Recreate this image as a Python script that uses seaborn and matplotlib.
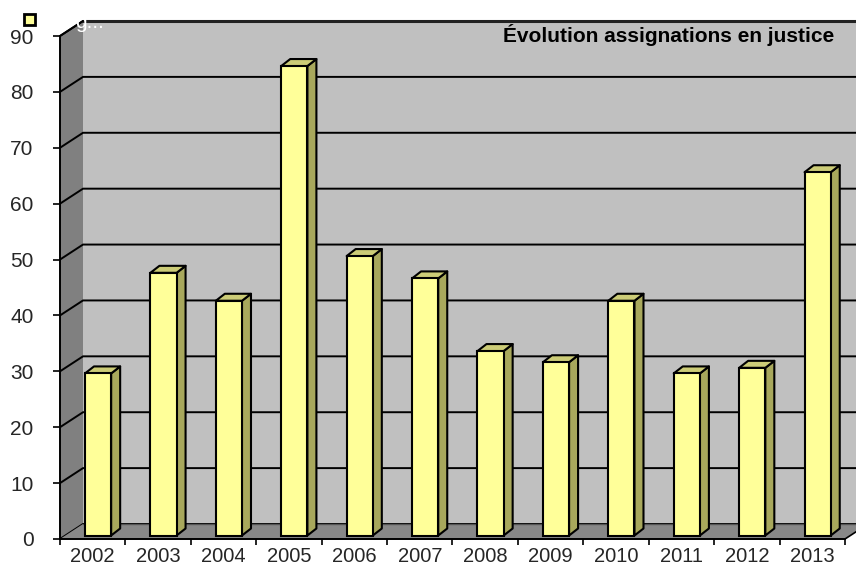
import matplotlib
matplotlib.use("Agg")
import matplotlib.pyplot as plt
from matplotlib.patches import Polygon, Rectangle
import seaborn as sns
import pandas as pd

years = ["2002", "2003", "2004", "2005", "2006", "2007", "2008", "2009", "2010", "2011", "2012", "2013"]
values = [29, 47, 42, 84, 50, 46, 33, 31, 42, 29, 30, 65]
yticks = [0, 10, 20, 30, 40, 50, 60, 70, 80, 90]
title = "Évolution assignations en justice"
legend_text = "g..."

sns.set_theme(style="white")
plt.rcParams['font.family'] = ['Liberation Sans', 'DejaVu Sans']

W, H = 856, 571
fig = plt.figure(figsize=(W / 100, H / 100), dpi=100)
fig.patch.set_facecolor("white")

# axes: x -0.5..11.5 -> px 60..845 ; y 0..90 -> px 539..36
px_l, px_r, px_b, px_t = 60, 845, 539, 36
ax = fig.add_axes([px_l / W, 1 - px_b / H, (px_r - px_l) / W, (px_b - px_t) / H])
n = len(years)
ax.set_xlim(-0.5, n - 0.5)
ax.set_ylim(0, 90)
ax.patch.set_alpha(0)
for s in ax.spines.values():
    s.set_visible(False)

ppx = (px_r - px_l) / n          # px per x unit
ppy = (px_b - px_t) / 90.0       # px per y unit
wdx, wdy = 23 / ppx, 15 / ppy    # wall depth
bdx, bdy = 9 / ppx, 7 / ppy      # bar depth
x0, x1 = -0.5, n - 0.5
ytop = 90

wall_c = "#C0C0C0"
side_c = "#808080"
floor_c = "#888888"

# back wall
ax.add_patch(Polygon([(x0 + wdx, wdy), (x1 + wdx, wdy), (x1 + wdx, ytop + wdy), (x0 + wdx, ytop + wdy)],
                     closed=True, facecolor=wall_c, edgecolor="none", zorder=0, clip_on=False))
# left wall
ax.add_patch(Polygon([(x0, 0), (x0 + wdx, wdy), (x0 + wdx, ytop + wdy), (x0, ytop)],
                     closed=True, facecolor=side_c, edgecolor="none", zorder=0, clip_on=False))
# gridlines on back and left walls
for t in yticks:
    ax.plot([x0, x0 + wdx, x1 + wdx], [t, t + wdy, t + wdy], color="black", lw=1.4,
            zorder=1, clip_on=False, solid_capstyle="butt")
ax.plot([x0 + wdx, x1 + wdx], [ytop + wdy, ytop + wdy], color="#222222", lw=2.2, zorder=1, clip_on=False)
# floor
ax.add_patch(Polygon([(x0, 0), (x1, 0), (x1 + wdx, wdy), (x0 + wdx, wdy)],
                     closed=True, facecolor=floor_c, edgecolor="none", zorder=1.5, clip_on=False))
ax.plot([x0 + wdx, x1 + wdx], [wdy, wdy], color="#555555", lw=1.0, zorder=1.6, clip_on=False)
ax.plot([x1, x1 + wdx], [0, wdy], color="black", lw=1.2, zorder=1.6, clip_on=False)
# front axis lines
ax.plot([x0, x1], [0, 0], color="black", lw=1.4, zorder=1.7, clip_on=False)
ax.plot([x0, x0], [0, ytop], color="black", lw=1.4, zorder=1.7, clip_on=False)
ax.plot([x0, x0 + wdx], [ytop, ytop + wdy], color="black", lw=1.4, zorder=1.7, clip_on=False)

# bars (front faces) via seaborn
df = pd.DataFrame({"year": years, "value": values})
sns.barplot(data=df, x="year", y="value", color="#FFFF99", width=0.4, saturation=1,
            edgecolor="black", linewidth=1.5, ax=ax, zorder=3)
shift_x = 0.082
base_y = 3.5 / ppy
bar_patches = [p for p in ax.patches if isinstance(p, Rectangle)]
for p in bar_patches:
    bx = p.get_x() + shift_x
    bw = p.get_width()
    bh = p.get_height()
    p.set_x(bx)
    p.set_y(base_y)
    p.set_clip_on(False)
    y0b, y1b = base_y, base_y + bh
    side = Polygon([(bx + bw, y0b), (bx + bw + bdx, y0b + bdy), (bx + bw + bdx, y1b + bdy), (bx + bw, y1b)],
                   closed=True, facecolor="#A8A85C", edgecolor="black", lw=1.5, zorder=2.9,
                   joinstyle="round", clip_on=False)
    top = Polygon([(bx, y1b), (bx + bdx, y1b + bdy), (bx + bw + bdx, y1b + bdy), (bx + bw, y1b)],
                  closed=True, facecolor="#CCCC77", edgecolor="black", lw=1.5, zorder=2.9,
                  joinstyle="round", clip_on=False)
    ax.add_patch(side)
    ax.add_patch(top)

ax.set_xlabel("")
ax.set_ylabel("")
ax.set_yticks(yticks)
ax.set_yticklabels([str(t) for t in yticks], fontsize=15)
ax.tick_params(axis="y", direction="out", length=5, width=1.2, color="black", pad=14, left=True)
ax.set_xticks(range(n))
ax.set_xticklabels(years, fontsize=14.5)
ax.tick_params(axis="x", which="major", length=0, pad=6)
ax.set_xticks([i - 0.5 for i in range(n + 1)], minor=True)
ax.tick_params(axis="x", which="minor", direction="out", length=4, width=1.2, color="black", bottom=True)

# title and legend remnant
fig.text(669 / W, 1 - 35 / H, title, ha="center", va="center", fontsize=15, fontweight="bold", color="black")
fig.patches.append(Rectangle((24 / W, 1 - 25 / H), 11 / W, 11 / H, transform=fig.transFigure,
                             facecolor="#FFFF99", edgecolor="black", lw=2, figure=fig))
fig.text(75 / W, 1 - 22 / H, legend_text, ha="left", va="center", fontsize=15, color="white")

fig.savefig("out.png", dpi=100, facecolor="white")
